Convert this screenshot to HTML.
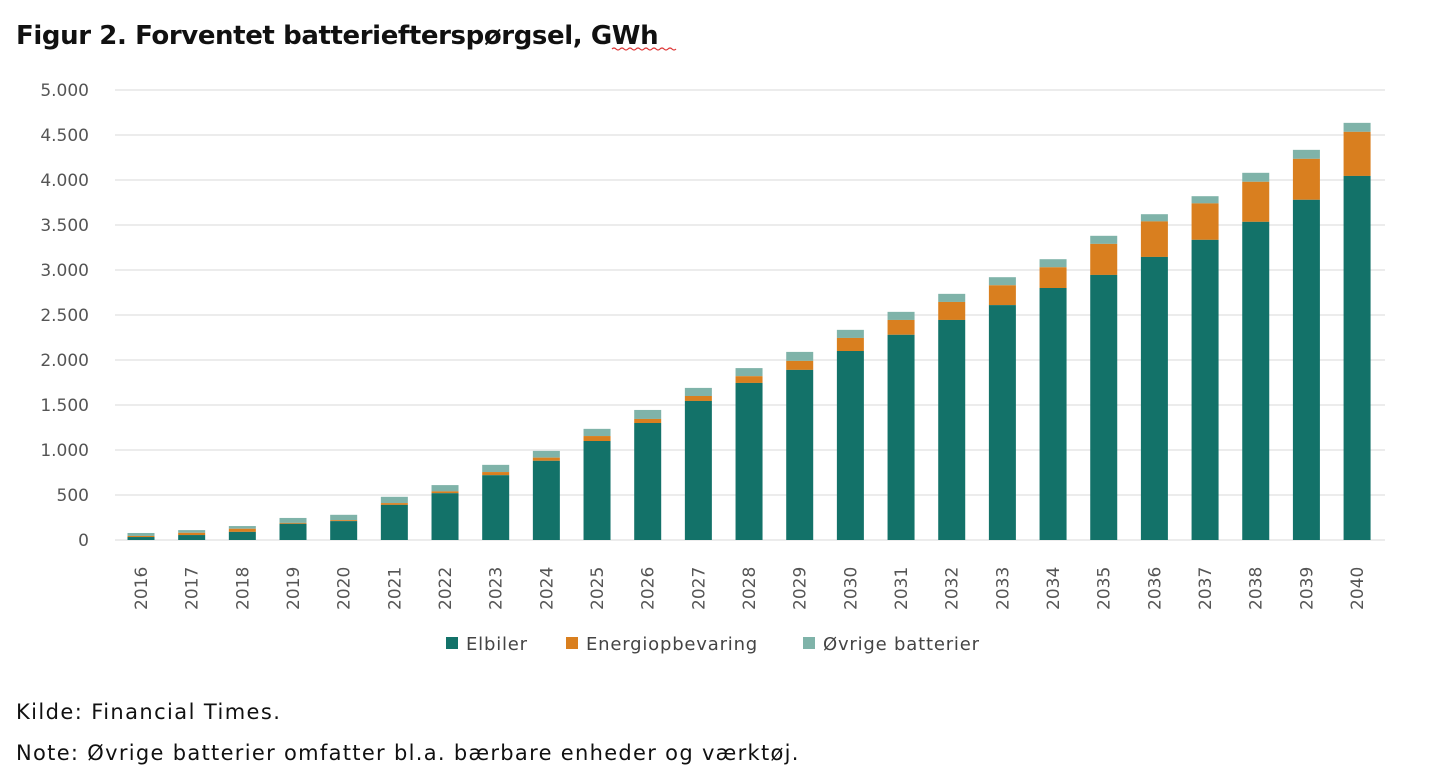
<!DOCTYPE html>
<html><head><meta charset="utf-8"><style>
body{margin:0;background:#fff;width:1440px;height:773px;overflow:hidden;font-family:"DejaVu Sans","Liberation Sans",sans-serif;}
</style></head><body>
<svg width="1440" height="773" xmlns="http://www.w3.org/2000/svg" font-family="DejaVu Sans, Liberation Sans, sans-serif">
<text x="16" y="44" font-size="26" font-weight="bold" fill="#111" letter-spacing="-0.4">Figur 2. Forventet batteriefterspørgsel, GWh</text>
<path d="M612 49 q2 -2 4 0 t4 0 t4 0 t4 0 t4 0 t4 0 t4 0 t4 0 t4 0 t4 0 t4 0 t4 0 t4 0 t4 0 t4 0 t4 0" stroke="#d33" fill="none" stroke-width="1.2"/>
<g id="grid" stroke="#d9d9d9" stroke-width="1"></g>
<g id="ylab" font-size="17" fill="#555" text-anchor="end"></g>
<g id="bars"></g>
<g id="xlab" font-size="17" fill="#555"></g>
<g font-size="18" fill="#444" letter-spacing="0.8">
<rect x="446" y="637" width="12" height="12" fill="#137269"/><text x="466" y="650">Elbiler</text>
<rect x="566" y="637" width="12" height="12" fill="#d97f1f"/><text x="586" y="650">Energiopbevaring</text>
<rect x="803" y="637" width="12" height="12" fill="#7fb3a9"/><text x="823" y="650">Øvrige batterier</text>
</g>
<text x="16" y="719" font-size="21" fill="#111" letter-spacing="1.4">Kilde: Financial Times.</text>
<text x="16" y="760" font-size="21" fill="#111" letter-spacing="1.3">Note: Øvrige batterier omfatter bl.a. bærbare enheder og værktøj.</text>
</svg>
<script>
const ns="http://www.w3.org/2000/svg";
function el(p,t,a,txt){const e=document.createElementNS(ns,t);for(const k in a)e.setAttribute(k,a[k]);if(txt!=null)e.textContent=txt;document.getElementById(p).appendChild(e);}
const y0=540,k=0.09;
for(let v=0;v<=5000;v+=500){const y=y0-v*k;el("grid","line",{x1:115,x2:1385,y1:y,y2:y});el("ylab","text",{x:89,y:y+6},v===0?"0":v.toLocaleString("de-DE"));}
const e=[33,55,90,180,210,390,520,720,880,1100,1300,1545,1745,1890,2100,2280,2445,2610,2800,2945,3145,3335,3535,3780,4045];
const o=[45,80,125,190,220,410,540,755,915,1155,1345,1600,1820,1990,2245,2445,2645,2830,3030,3290,3540,3740,3980,4235,4535];
const t=[78,110,155,245,280,480,610,835,990,1235,1445,1690,1910,2090,2335,2535,2735,2920,3120,3380,3620,3820,4080,4335,4635];
for(let i=0;i<25;i++){const cx=141+i*50.67,x=cx-13.5,w=27;
el("bars","rect",{x:x,y:y0-t[i]*k,width:w,height:(t[i]-o[i])*k,fill:"#7fb3a9"});
el("bars","rect",{x:x,y:y0-o[i]*k,width:w,height:(o[i]-e[i])*k,fill:"#d97f1f"});
el("bars","rect",{x:x,y:y0-e[i]*k,width:w,height:e[i]*k,fill:"#137269"});
el("xlab","text",{x:0,y:0,transform:`translate(${cx+6},${610}) rotate(-90)`},String(2016+i));}
</script>
</body></html>
